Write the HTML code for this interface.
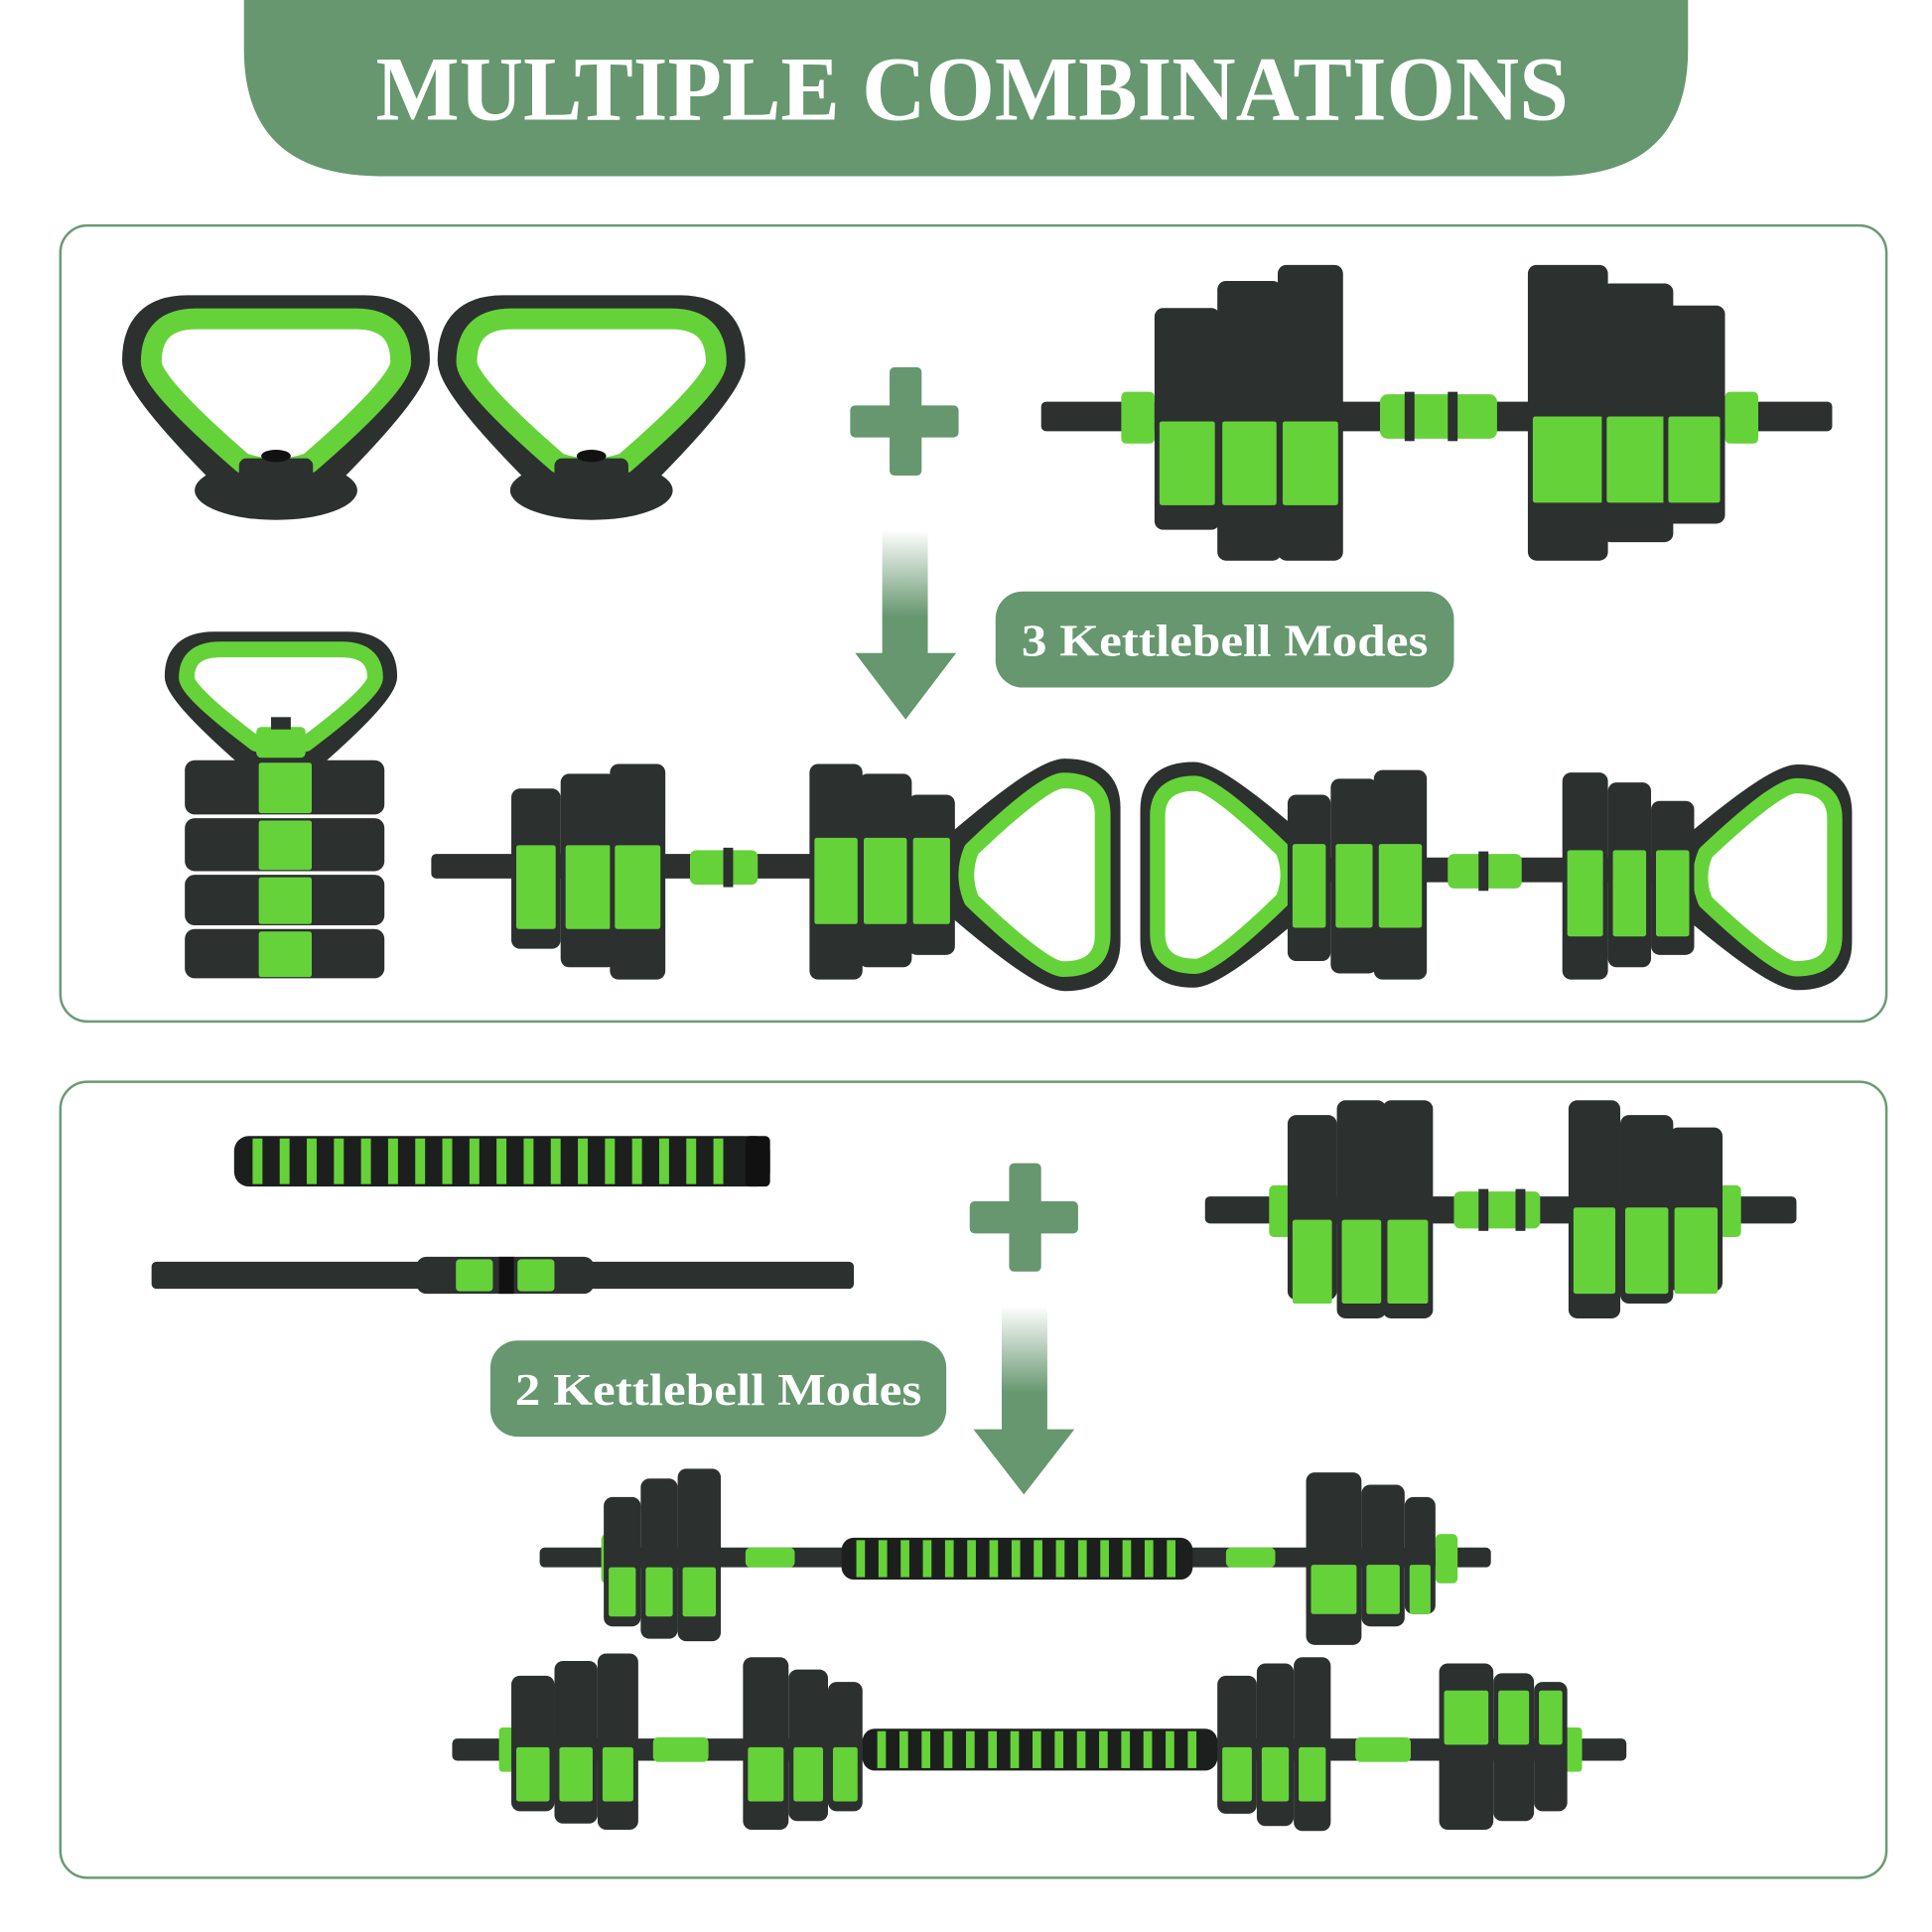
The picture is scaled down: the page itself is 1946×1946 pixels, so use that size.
<!DOCTYPE html>
<html><head><meta charset="utf-8"><style>
html,body{margin:0;padding:0;background:#fff;width:1946px;height:1946px;overflow:hidden}
svg{display:block}
.t{font-family:"Liberation Serif",serif;font-weight:bold;fill:#fff}
</style></head><body>
<svg id="s" width="1946" height="1946" viewBox="0 0 1568 1568" xmlns="http://www.w3.org/2000/svg">
<defs>
<linearGradient id="fade" x1="0" y1="0" x2="0" y2="1">
<stop offset="0" stop-color="#66976f" stop-opacity="0"/><stop offset="0.7" stop-color="#66976f"/></linearGradient>
</defs>
<rect width="1568" height="1568" fill="#fff"/>
<path d="M198 0 H1370 V40 Q1370 143 1260 143 H310 Q198 143 198 40 Z" fill="#66976f"/>
<text class="t" x="789" y="97" font-size="74" text-anchor="middle" textLength="968" lengthAdjust="spacingAndGlyphs">MULTIPLE COMBINATIONS</text>
<rect x="49" y="183" width="1482" height="646" rx="22" fill="#fff" stroke="#6a9a74" stroke-width="2"/>
<rect x="49" y="878" width="1482" height="646" rx="22" fill="#fff" stroke="#6a9a74" stroke-width="2"/>
<g fill="#66976f">
<rect x="722" y="298" width="26" height="88" rx="4"/><rect x="690" y="329" width="88" height="26" rx="4"/>
<rect x="819" y="944" width="26" height="88" rx="4"/><rect x="787" y="975" width="88" height="26" rx="4"/>
<polygon points="694,530 776,530 735,584"/><polygon points="790,1160 872,1160 831,1213"/>
<rect x="808" y="480" width="372" height="78" rx="22"/>
<rect x="398" y="1088" width="370" height="78" rx="22"/>
</g>
<rect x="716" y="430" width="37" height="101" fill="url(#fade)"/>
<rect x="813" y="1060" width="37" height="101" fill="url(#fade)"/>
<text class="t" x="994" y="532" font-size="37" text-anchor="middle" textLength="330" lengthAdjust="spacingAndGlyphs">3 Kettlebell Modes</text>
<text class="t" x="583" y="1140" font-size="37" text-anchor="middle" textLength="330" lengthAdjust="spacingAndGlyphs">2 Kettlebell Modes</text>
<g id="g"></g>
</svg>
<script>
var D="#2c302f",G="#66d23a",out="";
function r(x,y,w,h,f,rx){out+='<rect x="'+x+'" y="'+y+'" width="'+w+'" height="'+h+'" fill="'+f+'" rx="'+(rx||0)+'"/>';}
function bar(x1,x2,y,h){r(x1,y-h/2,x2-x1,h,D,4);}
function plates(list,gy,gh){list.forEach(function(p){r(p[0],p[1],p[2]-p[0],p[3]-p[1],D,7);r(p[0]+4,gy,p[2]-p[0]-8,gh,G,2);});}
function loop(cx,top,w,h,bw){
 var x1=cx-w/2,x2=cx+w/2,b=top+h;
 return 'M'+(x1+w*0.18)+' '+top+' H'+(x2-w*0.18)+' Q'+x2+' '+top+' '+x2+' '+(top+h*0.3)+' Q'+x2+' '+(top+h*0.45)+' '+(cx+bw)+' '+b+' Q'+cx+' '+(b+h*0.08)+' '+(cx-bw)+' '+b+' Q'+x1+' '+(top+h*0.45)+' '+x1+' '+(top+h*0.3)+' Q'+x1+' '+top+' '+(x1+w*0.18)+' '+top+'Z';
}
function handleV(cx,top,w,h){
 out+='<path d="'+loop(cx,top,w,h,w*0.17)+'" fill="none" stroke="'+D+'" stroke-width="'+(w*0.11)+'" stroke-linejoin="round"/>';
 out+='<path d="'+loop(cx,top+w*0.03,w-w*0.1,h-w*0.08,w*0.12)+'" fill="#fff" stroke="'+G+'" stroke-width="'+(w*0.075)+'" stroke-linejoin="round"/>';
}
function handleH(cx,cy,len,wid,dir){
 out+='<g transform="translate('+cx+' '+cy+') rotate('+(dir>0?90:-90)+')">';
 handleV(0,-len/2,wid,len);out+='</g>';
}
out+='<ellipse cx="224" cy="398" rx="66" ry="24" fill="'+D+'"/><ellipse cx="480" cy="398" rx="66" ry="24" fill="'+D+'"/>';
handleV(224,252,225,135);handleV(480,252,225,135);
r(194,372,60,20,D,6);r(450,372,60,20,D,6);
out+='<ellipse cx="224" cy="370" rx="12" ry="5" fill="#111"/><ellipse cx="480" cy="370" rx="12" ry="5" fill="#111"/>';
// D1
bar(845,1487,338,24);r(1120,320,95,36,G,6);r(1140,318,8,40,D);r(1175,318,8,40,D);r(910,318,27,42,G,4);r(1400,318,27,42,G,4);
plates([[937,250,990,430],[988,228,1040,455],[1037,215,1090,455]],342,68);
plates([[1240,215,1305,455],[1300,230,1358,440],[1350,248,1400,425]],338,70);
// kettlebell assembled
r(205,595,45,25,D,4);
handleV(228,522,170,90);r(208,590,40,25,G,4);r(220,582,16,10,D);
[[615,662],[662,708],[708,752],[752,795]].forEach(function(a){r(150,a[0]+2,162,a[1]-a[0]-3,D,8);r(210,a[0]+4,43,a[1]-a[0]-6,G,2);});
// row2 item2
bar(350,835,703,20);r(560,690,55,28,G,5);r(587,688,8,32,D);
handleH(840,710,120,170,1);
plates([[415,640,455,770],[455,628,500,785],[495,620,540,795]],686,68);
plates([[657,620,700,795],[697,628,740,785],[737,645,775,775]],680,70);
// row2 item3
bar(988,1437,706,20);r(1175,693,60,28,G,5);r(1200,691,8,32,D);
handleH(992,710,115,165,-1);handleH(1435,712,118,165,1);
plates([[1045,645,1080,780],[1080,632,1118,790],[1115,625,1158,795]],685,68);
plates([[1268,627,1305,795],[1305,635,1340,785],[1340,650,1375,775]],690,70);
// panel2 foam tube
r(190,922,435,41,"#1d1f1f",12);for(var x=205;x<600;x+=22)r(x,924,8,37,G);r(605,922,20,41,"#111",4);
bar(123,693,1035,22);r(338,1020,144,30,D,8);r(370,1022,30,26,G,3);r(405,1020,12,30,"#111");r(420,1022,30,26,G,3);
// D2
bar(978,1458,982,22);r(1180,967,70,30,G,5);r(1200,965,8,34,D);r(1230,965,8,34,D);r(1030,962,18,42,G,4);r(1395,962,18,42,G,4);
plates([[1045,905,1085,1055],[1085,893,1125,1070],[1122,893,1163,1070]],990,68);
plates([[1273,893,1315,1070],[1315,905,1358,1058],[1355,915,1398,1048]],980,70);
// barbell 1
bar(438,1210,1264,16);r(683,1248,285,34,"#1d1f1f",10);for(x=695;x<960;x+=18)r(x,1250,7,30,G);
r(605,1256,40,16,G,4);r(995,1256,40,16,G,4);r(488,1245,20,40,G,4);r(1165,1245,18,40,G,4);
plates([[490,1215,520,1320],[520,1200,550,1330],[550,1192,585,1332]],1272,40);
plates([[1060,1195,1105,1335],[1105,1205,1140,1320],[1140,1215,1165,1310]],1270,40);
// barbell 2
bar(367,1320,1420,18);r(700,1403,288,34,"#1d1f1f",10);for(x=712;x<980;x+=18)r(x,1405,7,30,G);
r(530,1410,45,20,G,4);r(1100,1410,45,20,G,4);r(405,1402,14,36,G,3);r(1270,1402,14,36,G,3);
plates([[415,1360,450,1470],[450,1348,485,1480],[485,1342,518,1485]],1418,44);
plates([[603,1345,640,1485],[640,1355,672,1478],[672,1365,700,1470]],1418,44);
plates([[988,1360,1020,1472],[1020,1350,1050,1482],[1050,1345,1080,1486]],1418,44);
plates([[1168,1350,1212,1485],[1212,1358,1245,1478],[1245,1365,1272,1470]],1372,44);
document.getElementById("g").innerHTML=out;
</script>
</body></html>
